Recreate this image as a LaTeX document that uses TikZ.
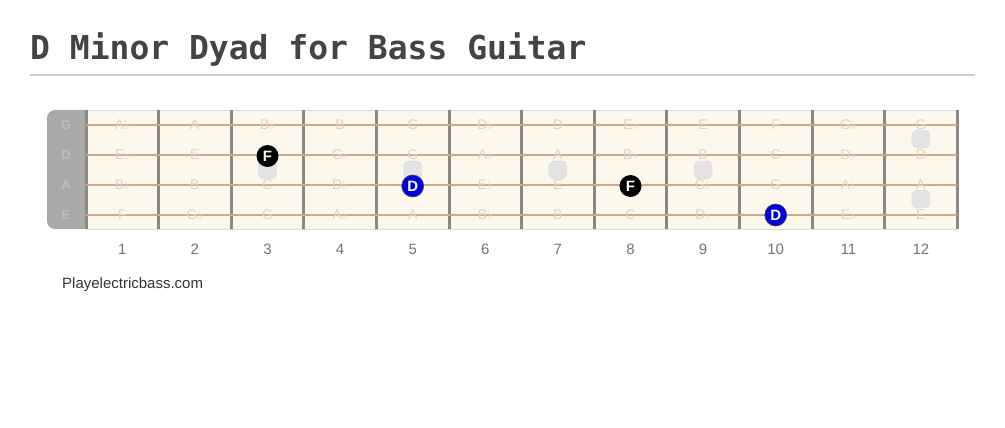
\documentclass[tikz,border=0pt]{standalone}
\usepackage{fontspec}
\setmainfont{Liberation Sans}
\newfontfamily\titlefont{DejaVu Sans Mono}
\newfontfamily\symfont{DejaVu Sans}
\usetikzlibrary{positioning}
\definecolor{boardcream}{HTML}{FDF8EC}
\definecolor{boardedge}{HTML}{DEDBD3}
\definecolor{stringtan}{HTML}{D2A886}
\definecolor{fretgray}{HTML}{8A8984}
\definecolor{nutgray}{HTML}{A9A9A9}
\definecolor{nutlbl}{HTML}{BDBDBD}
\definecolor{notefaint}{HTML}{D8D4CA}
\definecolor{rootblue}{HTML}{0000DD}
\definecolor{titlegray}{HTML}{444444}
\newcommand{\fl}{{\symfont\fontsize{12}{12}\selectfont\char"266D}}
\tikzset{
  notelbl/.style={font=\fontsize{14}{14}\selectfont, text=notefaint, inner sep=0pt},
  strlbl/.style={font=\bfseries\fontsize{13}{13}\selectfont, text=nutlbl, inner sep=0pt},
  fretnum/.style={font=\fontsize{15}{15}\selectfont, text=black!55, inner sep=0pt},
  inlay/.style={draw=black!14, fill=black!11, rounded corners=5pt, minimum size=18pt, inner sep=0pt},
  notedot/.style={circle, minimum size=22pt, inner sep=0pt, text=white,
    font=\bfseries\fontsize{15}{15}\selectfont},
  dotF/.style={notedot, fill=black},
  dotD/.style={notedot, fill=rootblue, draw=black!70, line width=0.6pt}
}
\begin{document}
\begin{tikzpicture}[x=1pt, y=-1pt]
	\useasboundingbox (0,0) rectangle (1005,428);
	% title
	\node[anchor=base west, inner sep=0pt, text=titlegray,
	  font=\titlefont\bfseries\fontsize{33}{33}\selectfont] (title) at (30,60) {D Minor Dyad for Bass Guitar};
	\draw[black!20, line width=2pt] (30,75) to (975,75);
	% board
	\fill[nutgray, rounded corners=8pt] (47,110) rectangle (92,229);
	\fill[boardcream] (86,110) rectangle (957,229);
	\draw[boardedge] (86,110) to (957,110);
	\draw[boardedge] (86,229) to (957,229);
	% frets
	\foreach \k in {0,...,12}
		\draw[fretgray, line width=3pt] ({86+72.6*\k},110) to ({86+72.6*\k},229);
	% strings
	\foreach \s/\y in {G/125,D/155,A/185,E/215} {
		\node[strlbl] (str\s) at (66,\y) {\s};
		\draw[stringtan, line width=2pt] (86,\y) to (957,\y);
	}
	% note names
	\foreach \s/\y/\notes in {
		G/125/{A\fl,A,B\fl,B,C,D\fl,D,E\fl,E,F,G\fl,G},
		D/155/{E\fl,E,F,G\fl,G,A\fl,A,B\fl,B,C,D\fl,D},
		A/185/{B\fl,B,C,D\fl,D,E\fl,E,F,G\fl,G,A\fl,A},
		E/215/{F,G\fl,G,A\fl,A,B\fl,B,C,D\fl,D,E\fl,E}}
		\foreach \n [count=\k] in \notes
			\node[notelbl] (\s\k) at ({86+72.6*(\k-0.5)},\y) {\n};
	% fret numbers
	\foreach \k in {1,...,12}
		\node[fretnum] (num\k) at ({86+72.6*(\k-0.5)},249) {\k};
	% inlays
	\foreach \k in {3,5,7,9}
		\node[inlay] (inlay\k) at ({86+72.6*(\k-0.5)},170) {};
	\node[inlay] (inlay12a) at (920.9,139) {};
	\node[inlay] (inlay12b) at (920.9,199) {};
	% dyad notes
	\node[dotF] (f3) at ([yshift=-1pt]D3) {F};
	\node[dotD] (d5) at ([yshift=-1pt]A5) {D};
	\node[dotF] (f8) at ([yshift=-1pt]A8) {F};
	\node[dotD] (d10) at (E10) {D};
	% footer
	\node[anchor=west, inner sep=0pt, text=black!80, font=\fontsize{15}{15}\selectfont] (site) at (62,285) {Playelectricbass.com};
\end{tikzpicture}
\end{document}
